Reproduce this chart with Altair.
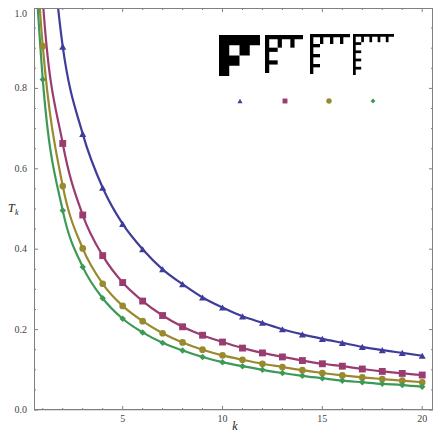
import altair as alt
import pandas as pd

# ---- data ----
k_values = list(range(1, 21))
blue_T = [1.40, 0.904, 0.687, 0.553, 0.463, 0.400, 0.350, 0.313, 0.280, 0.255,
          0.233, 0.217, 0.201, 0.188, 0.177, 0.167, 0.157, 0.149, 0.142, 0.135]
magenta_T = [1.02, 0.663, 0.485, 0.384, 0.317, 0.271, 0.235, 0.207, 0.186, 0.169,
             0.154, 0.142, 0.132, 0.123, 0.115, 0.109, 0.102, 0.096, 0.091, 0.087]
yellow_T = [0.905, 0.557, 0.402, 0.314, 0.259, 0.221, 0.191, 0.168, 0.150, 0.136,
            0.125, 0.115, 0.107, 0.099, 0.092, 0.086, 0.081, 0.077, 0.073, 0.069]
green_T = [0.822, 0.496, 0.356, 0.278, 0.227, 0.193, 0.167, 0.148, 0.132, 0.119,
           0.109, 0.100, 0.092, 0.085, 0.079, 0.073, 0.069, 0.065, 0.062, 0.058]
# where the curves continue above the top edge (left of k = 1)
lead_k = [0.5, 0.5, 0.5]
lead_series = ["magenta", "yellow", "green"]
lead_T = [1.60, 1.25, 1.20]

series = ["blue", "magenta", "yellow", "green"]
colors = ["#3F3D99", "#993D71", "#998A2F", "#3D9956"]
shapes = ["triangle-up", "square", "circle", "diamond"]
marker_sizes = [50, 42, 60, 46]

x_major = [5, 10, 15, 20]
x_minor = [k for k in range(1, 21) if k not in x_major]
y_major = [0.0, 0.2, 0.4, 0.6, 0.8, 1.0]
y_minor = [0.05, 0.1, 0.15, 0.25, 0.3, 0.35, 0.45, 0.5, 0.55, 0.65, 0.7, 0.75, 0.85, 0.9, 0.95]

# legend icons: number of ticks per icon and cells per tick spacing
icon_ticks = [1, 2, 3, 4]
icon_cells = [2, 3, 3, 3]

# ---- layout ----
W, H = 399, 402
FRAME = "#808080"
LABEL = "#444444"
FONT = "Liberation Serif"
icon_left = [185, 231, 276, 319]
icon_top = [27, 27, 26, 26]
icon_size = [41, 38, 40, 41]
legend_x = [206, 251, 295, 339]
legend_y = 93
legend_sizes = [26, 24, 30, 24]

rows = []
for name, vals in zip(series, [blue_T, magenta_T, yellow_T, green_T]):
    for k, t in zip(k_values, vals):
        rows.append({"series": name, "k": k, "T": t, "marker": True})
for k, name, t in zip(lead_k, lead_series, lead_T):
    rows.append({"series": name, "k": k, "T": t, "marker": False})
df = pd.DataFrame(rows)

xs = alt.Scale(domain=[0.56, 20.54], nice=False, zero=False)
ys = alt.Scale(domain=[0, 1], nice=False, zero=True)
cs = alt.Scale(domain=series, range=colors)
ss = alt.Scale(domain=series, range=shapes)
zs = alt.Scale(domain=series, range=marker_sizes)

lines = alt.Chart(df).mark_line(clip=True, strokeWidth=2.2, interpolate="monotone").encode(
    x=alt.X("k:Q", scale=xs, axis=None),
    y=alt.Y("T:Q", scale=ys, axis=None),
    color=alt.Color("series:N", scale=cs, legend=None),
    detail="series:N",
)

points = alt.Chart(df).transform_filter("datum.marker").mark_point(
    filled=True, clip=True, opacity=1).encode(
    x=alt.X("k:Q", scale=xs, axis=None),
    y=alt.Y("T:Q", scale=ys, axis=None),
    color=alt.Color("series:N", scale=cs, legend=None),
    shape=alt.Shape("series:N", scale=ss, legend=None),
    size=alt.Size("series:N", scale=zs, legend=None),
)

def xticks(vals, y0, y1):
    return alt.Chart(pd.DataFrame({"v": vals})).mark_rule(color=FRAME, strokeWidth=1).encode(
        x=alt.X("v:Q", scale=xs, axis=None), y=alt.value(y0), y2=alt.value(y1))

def yticks(vals, x0, x1):
    return alt.Chart(pd.DataFrame({"v": vals})).mark_rule(color=FRAME, strokeWidth=1).encode(
        y=alt.Y("v:Q", scale=ys, axis=None), x=alt.value(x0), x2=alt.value(x1))

tick_layers = [
    xticks(x_major, H, H - 4), xticks(x_minor, H, H - 2),
    xticks(x_major, 0, 4), xticks(x_minor, 0, 2),
    yticks(y_major, 0, 4), yticks(y_minor, 0, 2),
    yticks(y_major, W, W - 4), yticks(y_minor, W, W - 2),
]

frame_df = pd.DataFrame({"side": ["frame"]})
frame = [
    alt.Chart(frame_df).mark_rule(color=FRAME, strokeWidth=1).encode(
        x=alt.value(0), x2=alt.value(W), y=alt.value(0.5)),
    alt.Chart(frame_df).mark_rule(color=FRAME, strokeWidth=1).encode(
        x=alt.value(0), x2=alt.value(W), y=alt.value(H - 0.5)),
    alt.Chart(frame_df).mark_rule(color=FRAME, strokeWidth=1).encode(
        y=alt.value(0), y2=alt.value(H), x=alt.value(0.5)),
    alt.Chart(frame_df).mark_rule(color=FRAME, strokeWidth=1).encode(
        y=alt.value(0), y2=alt.value(H), x=alt.value(W - 0.5)),
]

# tick labels
x_lab = alt.Chart(pd.DataFrame({"v": x_major, "t": [str(v) for v in x_major]})).mark_text(
    font=FONT, fontSize=10, color=LABEL, align="center", baseline="alphabetic").encode(
    x=alt.X("v:Q", scale=xs, axis=None), y=alt.value(H + 12), text="t:N")
y_lab = alt.Chart(pd.DataFrame({"v": y_major[:-1],
                                "t": [f"{v:.1f}" for v in y_major[:-1]]})).mark_text(
    font=FONT, fontSize=10, color=LABEL, align="right", baseline="middle").encode(
    y=alt.Y("v:Q", scale=ys, axis=None), x=alt.value(-7), text="t:N")
one_label = alt.Chart(pd.DataFrame({"t": [f"{y_major[-1]:.1f}"]})).mark_text(
    font=FONT, fontSize=10, color=LABEL, align="right", baseline="top").encode(
    x=alt.value(-7), y=alt.value(1), text="t:N")

k_title = alt.Chart(pd.DataFrame({"t": ["k"]})).mark_text(
    font=FONT, fontSize=12, fontStyle="italic", color="#222222", align="center",
    baseline="alphabetic").encode(x=alt.value(201), y=alt.value(H + 20), text="t:N")
t_title = alt.Chart(pd.DataFrame({"t": ["T"]})).mark_text(
    font=FONT, fontSize=12, fontStyle="italic", color="#222222", align="left",
    baseline="alphabetic").encode(x=alt.value(-26), y=alt.value(204), text="t:N")
k_sub = alt.Chart(pd.DataFrame({"t": ["k"]})).mark_text(
    font=FONT, fontSize=8, fontStyle="italic", color="#222222", align="left",
    baseline="alphabetic").encode(x=alt.value(-19), y=alt.value(207), text="t:N")

# legend icons
rects = []
for n, q, L, T0, S in zip(icon_ticks, icon_cells, icon_left, icon_top, icon_size):
    m = (n + 1) * q
    c = S / m
    rects.append({"x0": L, "x1": L + S, "y0": T0, "y1": T0 + c})
    rects.append({"x0": L, "x1": L + c, "y0": T0, "y1": T0 + S})
    for j in range(1, n + 1):
        rects.append({"x0": L + j * q * c, "x1": L + (j * q + 1) * c, "y0": T0, "y1": T0 + q * c})
        rects.append({"x0": L, "x1": L + q * c, "y0": T0 + j * q * c, "y1": T0 + (j * q + 1) * c})
icons = alt.Chart(pd.DataFrame(rects)).mark_rect(color="black", opacity=1).encode(
    x=alt.X("x0:Q", scale=None, axis=None), x2="x1:Q",
    y=alt.Y("y0:Q", scale=None, axis=None), y2="y1:Q",
)

legend_df = pd.DataFrame({"series": series, "px": legend_x, "py": [legend_y] * 4,
                          "sz": legend_sizes})
legend_marks = alt.Chart(legend_df).mark_point(filled=True, opacity=1).encode(
    x=alt.X("px:Q", scale=None, axis=None),
    y=alt.Y("py:Q", scale=None, axis=None),
    color=alt.Color("series:N", scale=cs, legend=None),
    shape=alt.Shape("series:N", scale=ss, legend=None),
    size=alt.Size("sz:Q", scale=None, legend=None),
)

chart = alt.layer(
    lines, points, *tick_layers, *frame, x_lab, y_lab, one_label, k_title, t_title, k_sub,
    icons, legend_marks
).properties(
    width=W, height=H,
    autosize=alt.AutoSizeParams(type="none"),
    padding={"left": 26, "top": 0, "right": 0, "bottom": 23},
).configure_view(strokeWidth=0).configure(background="white")

chart.save("out.html", embed_options={"renderer": "svg", "actions": False})
